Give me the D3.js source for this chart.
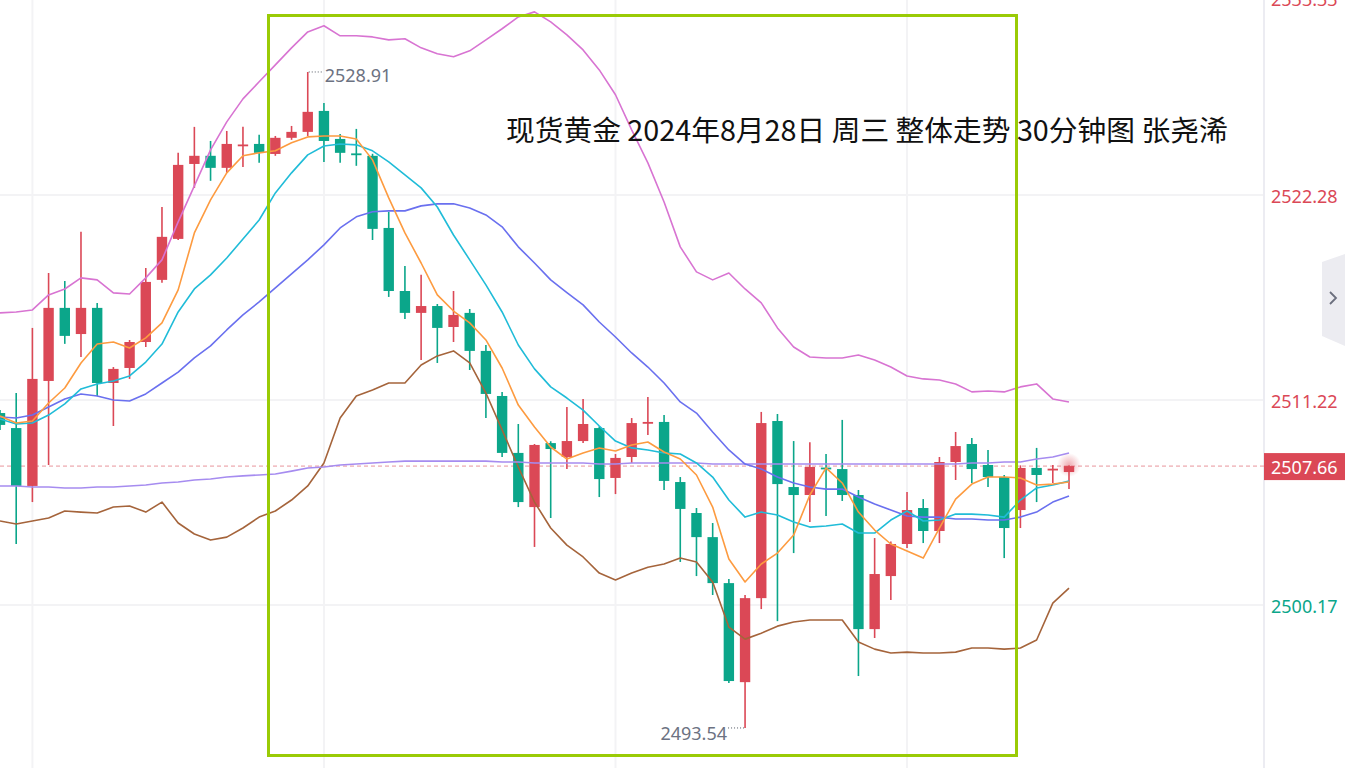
<!DOCTYPE html>
<html>
<head>
<meta charset="utf-8">
<script src="https://cdn.jsdelivr.net/npm/d3@7"></script>
<style>
  html, body { margin: 0; padding: 0; background: #ffffff; overflow: hidden; }
  svg { display: block; }
</style>
</head>
<body>
<svg id="chart" width="1345" height="768"></svg>
<script>
// ---------------- DATA ----------------
const categories = d3.range(67); // 30-minute bars
const opens  = [2510.52,2509.71,2506.59,2512.25,2516.19,2514.78,2516.19,2512.14,2512.95,2514.35,2517.70,2519.91,2523.95,2524.39,2523.74,2524.98,2525.03,2524.49,2525.36,2525.68,2526.81,2525.30,2524.52,2524.39,2520.50,2517.10,2515.92,2516.29,2515.16,2515.92,2513.87,2511.44,2508.37,2505.45,2508.90,2508.15,2509.01,2509.71,2507.02,2508.15,2509.99,2510.04,2506.80,2505.13,2503.83,2501.35,2496.01,2500.54,2510.09,2506.53,2506.10,2507.58,2507.50,2506.10,2498.87,2501.73,2503.46,2505.40,2504.16,2507.88,2508.85,2507.72,2507.07,2505.29,2507.56,2507.48,2507.34];
const highs  = [2510.68,2511.60,2515.11,2518.07,2517.64,2520.29,2516.46,2513.00,2514.46,2518.34,2521.63,2524.55,2525.95,2525.19,2525.73,2525.95,2525.52,2525.46,2526.00,2528.91,2527.24,2525.57,2525.84,2524.50,2521.37,2518.45,2517.97,2516.40,2517.10,2516.13,2514.19,2511.66,2509.93,2508.85,2509.00,2510.85,2511.28,2509.80,2508.31,2510.25,2511.39,2510.42,2507.07,2505.40,2504.59,2501.57,2500.71,2510.58,2510.47,2509.01,2508.95,2508.31,2510.15,2506.37,2503.78,2503.60,2506.26,2505.88,2508.15,2509.50,2509.17,2508.53,2507.18,2507.70,2508.64,2507.72,2507.70];
const lows   = [2509.61,2503.46,2505.72,2507.72,2514.25,2513.54,2511.44,2509.82,2512.36,2514.08,2517.54,2519.85,2522.66,2523.04,2523.47,2523.79,2524.01,2524.39,2525.25,2525.46,2524.06,2524.01,2523.85,2519.85,2516.78,2515.59,2513.38,2513.22,2514.35,2512.84,2510.25,2508.15,2505.45,2503.30,2504.86,2507.50,2508.90,2505.99,2506.15,2507.83,2509.34,2506.37,2502.49,2501.73,2500.71,2495.96,2493.54,2499.95,2499.30,2502.97,2504.64,2504.97,2505.78,2496.34,2498.39,2500.44,2503.24,2503.51,2503.51,2506.91,2506.75,2506.53,2502.70,2504.32,2505.72,2506.75,2506.42];
const closes = [2509.88,2506.59,2512.36,2516.19,2514.68,2516.19,2512.14,2512.90,2514.35,2517.59,2520.02,2523.90,2524.39,2523.74,2525.03,2525.00,2524.55,2525.36,2525.68,2526.76,2525.19,2524.55,2524.49,2520.45,2517.10,2515.92,2516.29,2515.11,2515.81,2513.87,2511.55,2508.37,2505.72,2508.80,2508.58,2509.01,2509.93,2506.96,2508.10,2509.98,2510.04,2506.86,2505.35,2503.83,2501.35,2496.07,2500.54,2509.98,2506.69,2506.10,2507.61,2507.54,2506.10,2498.87,2501.84,2503.46,2505.29,2504.16,2507.88,2508.74,2507.50,2507.07,2504.32,2507.56,2507.18,2507.52,2507.66];

const ma5  = [2510.36,2509.98,2510.09,2511.06,2511.87,2513.22,2514.24,2514.35,2514.03,2514.57,2515.38,2517.16,2520.23,2522.01,2523.47,2524.39,2524.55,2524.66,2525.09,2525.41,2525.46,2525.46,2525.30,2524.17,2522.12,2520.23,2518.61,2516.89,2516.02,2515.38,2514.46,2512.95,2510.95,2509.77,2508.69,2508.04,2508.37,2508.64,2508.47,2508.80,2508.96,2508.42,2508.04,2507.18,2505.45,2502.65,2501.41,2502.38,2502.97,2503.94,2506.10,2507.56,2506.75,2505.18,2504.21,2503.46,2503.08,2502.70,2504.32,2505.88,2506.69,2507.07,2507.07,2507.02,2506.64,2506.69,2506.80];
const ma10 = [2510.20,2509.93,2509.98,2510.41,2511.01,2511.82,2512.09,2512.25,2512.52,2513.27,2514.24,2515.97,2517.21,2517.97,2518.88,2519.91,2520.93,2522.39,2523.47,2524.44,2524.92,2525.03,2524.98,2524.66,2524.06,2523.36,2522.66,2521.63,2520.12,2518.78,2517.43,2515.97,2514.19,2512.90,2511.93,2511.33,2510.68,2509.82,2509.01,2508.64,2508.53,2508.37,2508.31,2507.83,2507.07,2505.83,2504.91,2505.18,2505.02,2504.64,2504.37,2504.43,2504.54,2504.05,2504.05,2504.75,2505.24,2504.70,2504.75,2505.07,2505.07,2505.02,2504.91,2505.83,2506.48,2506.64,2506.85];
const ma20 = [2510.31,2510.25,2510.41,2510.85,2511.28,2511.55,2511.44,2511.22,2511.17,2511.55,2512.14,2512.73,2513.49,2514.14,2515.00,2515.81,2516.51,2517.27,2518.02,2518.78,2519.59,2520.50,2521.10,2521.37,2521.42,2521.42,2521.69,2521.80,2521.80,2521.58,2521.20,2520.56,2519.48,2518.61,2517.70,2517.01,2516.35,2515.43,2514.62,2513.76,2513.00,2512.14,2511.12,2510.52,2509.50,2508.53,2507.77,2507.50,2507.07,2506.75,2506.53,2506.42,2506.42,2505.99,2505.61,2505.29,2504.97,2504.91,2504.91,2504.81,2504.81,2504.75,2504.75,2504.91,2505.18,2505.72,2506.05];
const ma60 = [2506.59,2506.59,2506.53,2506.53,2506.48,2506.48,2506.53,2506.53,2506.59,2506.64,2506.75,2506.80,2506.91,2506.96,2507.07,2507.13,2507.18,2507.23,2507.39,2507.56,2507.61,2507.72,2507.77,2507.83,2507.88,2507.93,2507.93,2507.93,2507.93,2507.93,2507.93,2507.88,2507.88,2507.83,2507.83,2507.83,2507.83,2507.77,2507.77,2507.83,2507.83,2507.83,2507.83,2507.83,2507.77,2507.77,2507.77,2507.77,2507.77,2507.77,2507.77,2507.77,2507.77,2507.77,2507.77,2507.77,2507.77,2507.77,2507.77,2507.77,2507.83,2507.83,2507.88,2507.88,2508.04,2508.15,2508.37];
const bollUpper = [2515.92,2515.97,2516.08,2516.89,2517.21,2517.81,2517.70,2517.00,2516.94,2517.81,2518.78,2520.83,2522.77,2524.71,2526.22,2527.46,2528.38,2529.29,2530.21,2531.07,2531.40,2530.86,2530.86,2530.80,2530.64,2530.70,2530.21,2529.89,2529.73,2530.05,2530.64,2531.24,2531.88,2532.15,2531.61,2530.91,2530.10,2529.02,2527.68,2525.79,2524.01,2521.90,2519.48,2518.13,2517.70,2518.07,2517.21,2516.46,2515.11,2514.08,2513.54,2513.49,2513.49,2513.65,2513.38,2513.00,2512.52,2512.36,2512.30,2512.09,2511.66,2511.71,2511.66,2511.93,2512.09,2511.28,2511.12];
const bollLower = [2504.70,2504.54,2504.70,2504.86,2505.24,2505.18,2505.13,2505.45,2505.51,2505.18,2505.72,2504.59,2504.00,2503.67,2503.83,2504.32,2504.91,2505.24,2505.83,2506.59,2507.83,2510.25,2511.44,2511.76,2512.14,2512.14,2513.11,2513.60,2513.87,2513.22,2511.60,2509.61,2507.61,2505.72,2504.32,2503.40,2502.76,2501.89,2501.52,2501.89,2502.21,2502.38,2502.70,2502.49,2501.41,2498.98,2498.33,2498.65,2499.03,2499.25,2499.36,2499.36,2499.36,2498.17,2497.79,2497.58,2497.63,2497.58,2497.58,2497.63,2497.85,2497.85,2497.79,2497.85,2498.28,2500.27,2501.08];

const yTicks = [2500.17, 2511.22, 2522.28, 2533.33];
const lastPrice = 2507.66;
const maxLabel = {index: 19, value: 2528.91};
const minLabel = {index: 46, value: 2493.54};
const gridIndices = [2, 20, 38, 56];
const titleText = "现货黄金 2024年8月28日 周三 整体走势 30分钟图 张尧浠";

// ---------------- LAYOUT ----------------
const W = 1345, H = 768, plotRight = 1264;
const svg = d3.select("#chart");
const UP = "#db4856", DOWN = "#0ba68a";

const x = d3.scaleLinear().domain([0, 66]).range([0, 1069]);
const y = d3.scaleLinear().domain([2500.17, 2533.33]).range([605, -10]);

svg.append("defs").append("clipPath").attr("id", "plotClip")
  .append("rect").attr("x", 0).attr("y", 0).attr("width", plotRight).attr("height", H);
const glow = svg.select("defs").append("radialGradient").attr("id", "glow");
glow.append("stop").attr("offset", "0%").attr("stop-color", UP).attr("stop-opacity", 0.45);
glow.append("stop").attr("offset", "100%").attr("stop-color", UP).attr("stop-opacity", 0);

// grid
const grid = svg.append("g");
grid.selectAll("line.h").data(yTicks).join("line")
  .attr("x1", 0).attr("x2", plotRight).attr("y1", d => y(d)).attr("y2", d => y(d))
  .attr("stroke", "#f3f3f5").attr("stroke-width", 2);
grid.selectAll("line.v").data(gridIndices).join("line")
  .attr("x1", d => x(d)).attr("x2", d => x(d)).attr("y1", 0).attr("y2", H)
  .attr("stroke", "#f3f3f5").attr("stroke-width", 2);
svg.append("line").attr("x1", plotRight).attr("x2", plotRight).attr("y1", 0).attr("y2", H)
  .attr("stroke", "#ececf2").attr("stroke-width", 2);

const plot = svg.append("g").attr("clip-path", "url(#plotClip)");

// last price dashed line
plot.append("line").attr("x1", 0).attr("x2", plotRight)
  .attr("y1", y(lastPrice)).attr("y2", y(lastPrice))
  .attr("stroke", "#e8959c").attr("stroke-width", 1).attr("stroke-dasharray", "4,3");

// candles
const bars = categories.map(i => ({i, o: opens[i], h: highs[i], l: lows[i], c: closes[i]}));
const cg = plot.append("g");
cg.selectAll("line.wick").data(bars).join("line")
  .attr("x1", d => x(d.i)).attr("x2", d => x(d.i))
  .attr("y1", d => y(d.h)).attr("y2", d => y(d.l))
  .attr("stroke", d => d.c >= d.o ? UP : DOWN).attr("stroke-width", 1.6);
cg.selectAll("rect.body").data(bars).join("rect")
  .attr("x", d => x(d.i) - 5.2).attr("width", 10.4)
  .attr("y", d => y(Math.max(d.o, d.c)))
  .attr("height", d => Math.max(1.8, Math.abs(y(d.o) - y(d.c))))
  .attr("fill", d => d.c >= d.o ? UP : DOWN);

// indicator lines
const line = d3.line().x((d, i) => x(i)).y(d => y(d));
const series = [
  {v: bollLower, c: "#a5643b"},
  {v: bollUpper, c: "#d874d2"},
  {v: ma60, c: "#a68cf0"},
  {v: ma20, c: "#6a70ef"},
  {v: ma10, c: "#20bcd8"},
  {v: ma5,  c: "#fd9b40"}
];
plot.selectAll("path.ind").data(series).join("path")
  .attr("d", d => line(d.v)).attr("fill", "none")
  .attr("stroke", d => d.c).attr("stroke-width", 1.6).attr("stroke-linejoin", "round");

// glow on current bar
plot.append("circle").attr("cx", x(66)).attr("cy", y(lastPrice) - 1).attr("r", 12)
  .attr("fill", "url(#glow)");

// max / min annotations
const annColor = "#6c7282";
const mx = x(maxLabel.index), my = y(maxLabel.value);
plot.append("line").attr("x1", mx + 1).attr("x2", mx + 15).attr("y1", my).attr("y2", my)
  .attr("stroke", "#555a66").attr("stroke-width", 1).attr("stroke-dasharray", "1,2");
plot.append("text").attr("x", mx + 17).attr("y", my + 3).attr("dominant-baseline", "central")
  .attr("font-family", "'Noto Sans', sans-serif").attr("font-size", 18).attr("fill", annColor)
  .text(maxLabel.value.toFixed(2));
const nx = x(minLabel.index), ny = y(minLabel.value);
plot.append("line").attr("x1", nx - 1).attr("x2", nx - 17).attr("y1", ny).attr("y2", ny)
  .attr("stroke", "#555a66").attr("stroke-width", 1).attr("stroke-dasharray", "1,2");
plot.append("text").attr("x", nx - 18).attr("y", ny + 5).attr("dominant-baseline", "central")
  .attr("text-anchor", "end")
  .attr("font-family", "'Noto Sans', sans-serif").attr("font-size", 18).attr("fill", annColor)
  .text(minLabel.value.toFixed(2));

// annotation box
svg.append("rect").attr("x", 268.5).attr("y", 15.5).attr("width", 748).attr("height", 740)
  .attr("fill", "none").attr("stroke", "#9acb06").attr("stroke-width", 3);

// title
const title = svg.append("text").attr("x", 506).attr("y", 128)
  .attr("dominant-baseline", "central")
  .attr("font-family", "'Noto Sans CJK SC', 'Noto Sans', sans-serif")
  .attr("font-size", 28).attr("fill", "#111111").text(titleText);
const tw = title.node().getComputedTextLength();
title.attr("font-size", 28 * 722 / tw);

// y axis
const axis = d3.axisRight(y).tickValues(yTicks).tickSize(0).tickPadding(7)
  .tickFormat(d => d.toFixed(2));
const ag = svg.append("g").attr("transform", `translate(${plotRight},0)`).call(axis);
ag.select(".domain").remove();
ag.selectAll("text")
  .attr("font-family", "'Noto Sans', sans-serif").attr("font-size", 18)
  .attr("fill", d => d > lastPrice ? UP : DOWN)
  .attr("dy", d => y(d) < 0 ? (3 - y(d)) + 2 : "0.4em");

// current price tag
svg.append("rect").attr("x", plotRight).attr("y", y(lastPrice) - 13).attr("width", W - plotRight).attr("height", 27)
  .attr("fill", UP);
svg.append("text").attr("x", plotRight + 7).attr("y", y(lastPrice) + 1).attr("dominant-baseline", "central")
  .attr("font-family", "'Noto Sans', sans-serif").attr("font-size", 18).attr("fill", "#ffffff")
  .text(lastPrice.toFixed(2));

// side collapse tab
svg.append("path").attr("d", "M1322,262 L1345,254 L1345,346 L1322,336 Z").attr("fill", "#ececf1");
svg.append("path").attr("d", "M1330,292 L1336,298 L1330,304").attr("fill", "none")
  .attr("stroke", "#6b6f7e").attr("stroke-width", 1.8);
</script>
</body>
</html>
